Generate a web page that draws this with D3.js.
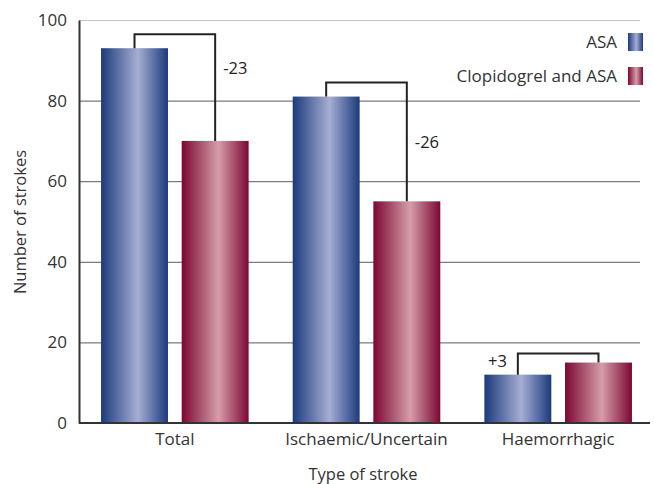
<!DOCTYPE html>
<html>
<head>
<meta charset="utf-8">
<script src="https://cdn.jsdelivr.net/npm/d3@7/dist/d3.min.js"></script>
<style>
  html, body { margin: 0; padding: 0; background: #fff; }
  svg { display: block; font-family: "Open Sans", "Noto Sans", sans-serif; }
</style>
</head>
<body>
<svg id="chart" width="654" height="484"></svg>
<script>
// Stroke counts by type, per treatment arm
const categories = ["Total", "Ischaemic/Uncertain", "Haemorrhagic"];
const seriesNames = ["ASA", "Clopidogrel and ASA"];
const asaValues = [93, 81, 12];
const clopidogrelValues = [70, 55, 15];
const differenceLabels = ["-23", "-26", "+3"];
const yTicks = [0, 20, 40, 60, 80, 100];

const svg = d3.select("#chart");
const margin = { left: 79, right: 0, top: 20, bottom: 61 };
const W = 654, H = 484;
const FS = 16.5;

const x = d3.scaleBand().domain(categories).range([margin.left, W]).paddingInner(0.23).paddingOuter(0.115);
const xs = d3.scaleBand().domain(seriesNames).range([0, x.bandwidth()]).paddingInner(0.17);
const y = d3.scaleLinear().domain([0, 100]).range([H - margin.bottom, margin.top]);

// Gradients for the cylindrical bar shading
const defs = svg.append("defs");
function grad(id, edge, mid) {
  const g = defs.append("linearGradient").attr("id", id).attr("x1", "0%").attr("x2", "100%");
  g.append("stop").attr("offset", "0%").attr("stop-color", edge);
  g.append("stop").attr("offset", "55%").attr("stop-color", mid);
  g.append("stop").attr("offset", "100%").attr("stop-color", edge);
}
grad("gAsa", "#1c3a7b", "#a6aed3");
grad("gClop", "#7c0733", "#d49ea8");
const fills = ["url(#gAsa)", "url(#gClop)"];

// Grid lines
svg.append("g").selectAll("line").data(yTicks.filter(t => t > 0)).join("line")
  .attr("x1", margin.left).attr("x2", 640)
  .attr("y1", d => y(d) + 0.5).attr("y2", d => y(d) + 0.5)
  .attr("stroke", d => d === 100 ? "#c4c4c4" : "#5a5a5a").attr("stroke-width", 1);

// Bars
const rows = categories.map((c, i) => ({ cat: c, vals: [asaValues[i], clopidogrelValues[i]], diff: differenceLabels[i] }));
const groups = svg.append("g").selectAll("g").data(rows).join("g")
  .attr("transform", d => `translate(${x(d.cat)},0)`);
groups.selectAll("rect").data(d => d.vals.map((v, j) => ({ v, j }))).join("rect")
  .attr("x", d => xs(seriesNames[d.j]))
  .attr("width", xs.bandwidth())
  .attr("y", d => y(d.v))
  .attr("height", d => y(0) - y(d.v))
  .attr("fill", d => fills[d.j]);

// Difference brackets between the two bars of each group
groups.each(function (d, i) {
  const g = d3.select(this);
  const cx0 = xs(seriesNames[0]) + xs.bandwidth() / 2;
  const cx1 = xs(seriesNames[1]) + xs.bandwidth() / 2;
  const hi = Math.max(d.vals[0], d.vals[1]);
  const top = y(hi) - (i === 2 ? 9 : 14);
  g.append("path")
    .attr("d", `M${cx0},${y(d.vals[0])}V${top}H${cx1}V${y(d.vals[1])}`)
    .attr("fill", "none").attr("stroke", "#222").attr("stroke-width", 2);
  if (i < 2) {
    g.append("text").attr("x", cx1 + 8).attr("y", i === 0 ? y(d.vals[0]) + 26 : y(d.vals[0]) + 51)
      .attr("font-size", FS).attr("fill", "#222").text(d.diff);
  } else {
    g.append("text").attr("x", cx0 - 11).attr("y", y(d.vals[0]) - 8)
      .attr("text-anchor", "end").attr("font-size", FS).attr("fill", "#222").text(d.diff);
  }
});

// Axes
const yAxis = svg.append("g").attr("transform", `translate(${margin.left},0)`)
  .call(d3.axisLeft(y).tickValues(yTicks).tickSize(0).tickPadding(12));
yAxis.select(".domain").attr("stroke", "#333").attr("stroke-width", 2);
yAxis.selectAll("text").attr("font-size", FS + 0.5).attr("fill", "#333").attr("font-family", "Open Sans");

const xAxis = svg.append("g").attr("transform", `translate(0,${y(0)})`)
  .call(d3.axisBottom(x).tickSize(0).tickPadding(10));
xAxis.select(".domain").attr("d", `M${margin.left},0H650`).attr("stroke", "#333").attr("stroke-width", 2);
xAxis.selectAll("text").attr("font-size", FS + 0.5).attr("fill", "#333").attr("font-family", "Open Sans");

// Axis titles
svg.append("text").attr("transform", `translate(26,222) rotate(-90)`)
  .attr("text-anchor", "middle").attr("font-size", FS).attr("fill", "#333").text("Number of strokes");
svg.append("text").attr("x", 363).attr("y", 480)
  .attr("text-anchor", "middle").attr("font-size", FS).attr("fill", "#333").text("Type of stroke");

// Legend
const legend = svg.append("g").selectAll("g").data(seriesNames).join("g")
  .attr("transform", (d, i) => `translate(628,${33 + i * 34})`);
legend.append("rect").attr("width", 15).attr("height", 18).attr("fill", (d, i) => fills[i]);
legend.append("text").attr("x", -11).attr("y", 15).attr("text-anchor", "end")
  .attr("font-size", FS + 0.5).attr("fill", "#333").text(d => d);
</script>
</body>
</html>
